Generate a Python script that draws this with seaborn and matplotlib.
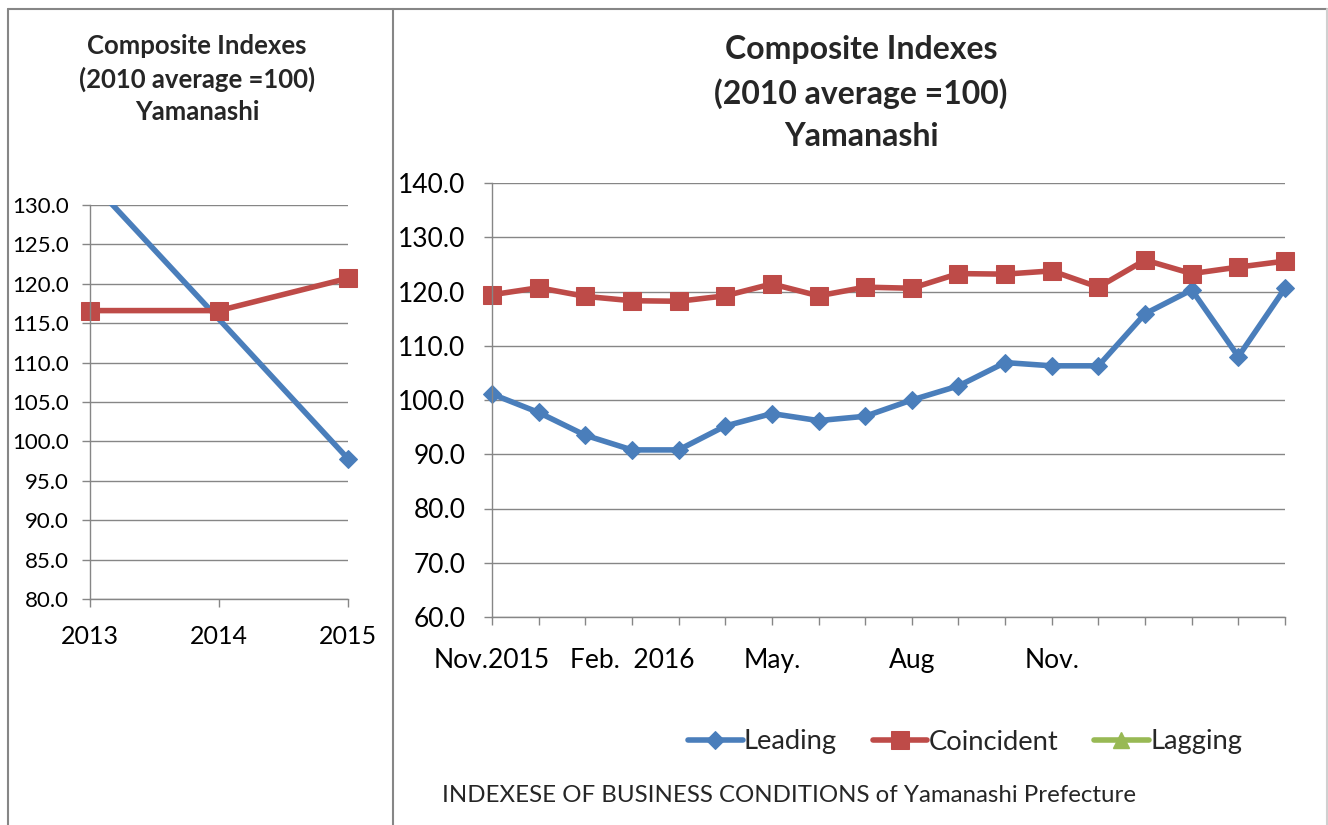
import matplotlib
matplotlib.use("Agg")
import matplotlib.pyplot as plt
import matplotlib.patches as mpatches
from matplotlib.lines import Line2D
import seaborn as sns
import numpy as np

# ---------------- data ----------------
years = ["2013", "2014", "2015"]
annual_leading = [133.1, 115.5, 97.8]
annual_coincident = [116.6, 116.6, 120.7]

month_labels = ["Nov.2015", "", "", "Feb.  2016", "", "", "May.", "", "",
                "Aug", "", "", "Nov.", "", "", "", "", ""]
monthly_leading = [101.1, 97.7, 93.5, 90.8, 90.8, 95.2, 97.5, 96.2, 97.0,
                   100.0, 102.6, 106.9, 106.3, 106.3, 115.9, 120.3, 108.0, 120.6]
monthly_coincident = [119.4, 120.7, 119.1, 118.3, 118.2, 119.2, 121.4, 119.2, 120.8,
                      120.6, 123.3, 123.2, 123.8, 120.8, 125.8, 123.3, 124.5, 125.6]
monthly_lagging = [np.nan] * 18

series_names = ["Leading", "Coincident", "Lagging"]
title_lines = ["Composite Indexes", "(2010 average =100)", "Yamanashi"]
footer = "INDEXESE OF BUSINESS CONDITIONS of Yamanashi Prefecture"

# ---------------- style ----------------
sns.set_style("white")
plt.rcParams["font.family"] = ["Lato", "DejaVu Sans"]

BLUE = "#4A7EBB"
RED = "#BE4B48"
GREEN = "#98B954"
GRID = "#868686"

W, H = 1328, 825
fig = plt.figure(figsize=(W / 100, H / 100), dpi=100)


def rect(x0, y0, x1, y1):
    return [x0 / W, 1 - y1 / H, (x1 - x0) / W, (y1 - y0) / H]


def style_axes(ax, ysize, xsize, ypad, xpad):
    ax.set_facecolor("none")
    for s in ["top", "right"]:
        ax.spines[s].set_visible(False)
    for s in ["left", "bottom"]:
        ax.spines[s].set_color(GRID)
        ax.spines[s].set_linewidth(1.0)
    ax.yaxis.grid(True, color=GRID, linewidth=1.0)
    ax.xaxis.grid(False)
    ax.tick_params(axis="y", direction="out", length=6, width=1.0, color=GRID,
                   labelsize=ysize, pad=ypad, labelcolor="black", left=True)
    ax.tick_params(axis="x", direction="out", length=6, width=1.0, color=GRID,
                   labelsize=xsize, pad=xpad, labelcolor="black", bottom=True)


# ---------------- left chart (annual) ----------------
axL = fig.add_axes(rect(90, 205, 348, 599))
xa = np.arange(len(years))
sns.lineplot(x=xa, y=annual_leading, ax=axL, color=BLUE, linewidth=4,
             marker="D", markersize=9.5, markeredgecolor=BLUE, markevery=[2],
             legend=False)
sns.lineplot(x=xa, y=annual_coincident, ax=axL, color=RED, linewidth=4,
             marker="s", markersize=12.5, markeredgecolor=RED,
             legend=False)
axL.set_xlim(0, 2)
axL.set_ylim(80, 130)
for ln in axL.lines:
    clipL = mpatches.Rectangle((-0.5, 70), 3.0, 60, transform=axL.transData)
    ln.set_clip_path(clipL)
    ln.set_clip_on(True)
axL.set_yticks(np.arange(80, 131, 5))
axL.set_yticklabels([f"{v:.1f}" for v in np.arange(80, 131, 5)])
axL.set_xticks(xa)
axL.set_xticklabels(years)
style_axes(axL, 16, 18, 9, 13)
axL.set_xlabel("")
axL.set_ylabel("")

for t, y in zip(title_lines, [46, 79, 112]):
    fig.text(197 / W, 1 - y / H, t, ha="center", va="center",
             fontsize=18.5, fontweight="bold")

# ---------------- right chart (monthly) ----------------
axR = fig.add_axes(rect(492, 183, 1285, 617))
xm = np.arange(len(month_labels))
sns.lineplot(x=xm, y=monthly_leading, ax=axR, color=BLUE, linewidth=4,
             marker="D", markersize=9.5, markeredgecolor=BLUE,
             clip_on=False, legend=False)
sns.lineplot(x=xm, y=monthly_coincident, ax=axR, color=RED, linewidth=4,
             marker="s", markersize=12.5, markeredgecolor=RED,
             clip_on=False, legend=False)
lag_line, = axR.plot(xm, monthly_lagging, color=GREEN, linewidth=4,
                     marker="^", markersize=11, markeredgecolor=GREEN)
axR.set_xlim(0, 17)
axR.set_ylim(60, 140)
axR.set_yticks(np.arange(60, 141, 10))
axR.set_yticklabels([f"{v:.1f}" for v in np.arange(60, 141, 10)])
axR.set_xticks(xm)
axR.set_xticklabels(month_labels)
style_axes(axR, 19, 19, 13, 16)
axR.set_xlabel("")
axR.set_ylabel("")

for t, y in zip(title_lines, [50, 94, 136]):
    fig.text(861 / W, 1 - y / H, t, ha="center", va="center",
             fontsize=23, fontweight="bold")

handles = [axR.lines[0], axR.lines[1], lag_line]
fig.legend(handles, series_names, loc="center",
           bbox_to_anchor=(965 / W, 1 - 742 / H), ncol=3, frameon=False,
           fontsize=19.7, handlelength=2.0, handletextpad=0.05,
           columnspacing=1.3, borderpad=0, numpoints=1)

fig.text(789 / W, 1 - 795 / H, footer, ha="center", va="center", fontsize=17.25)

# ---------------- panel borders ----------------
for (x0, y0, x1, y1, c) in [(8, 9, 1327, 9, GRID), (8, 9, 8, 825, GRID),
                            (393, 9, 393, 825, GRID), (1327, 9, 1327, 825, "#D0D0D0")]:
    fig.add_artist(Line2D([x0 / W, x1 / W], [1 - y0 / H, 1 - y1 / H],
                          transform=fig.transFigure, color=c, linewidth=1.5))

fig.savefig("out.png", dpi=100)
